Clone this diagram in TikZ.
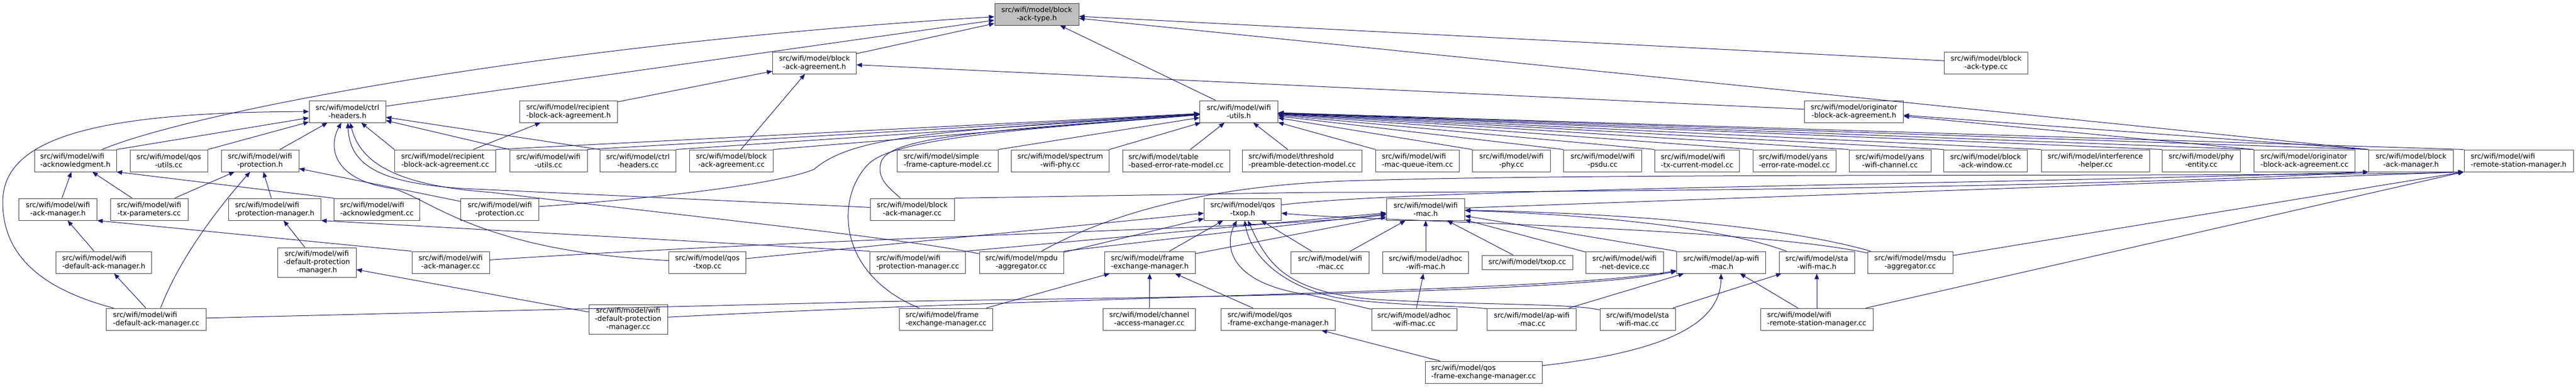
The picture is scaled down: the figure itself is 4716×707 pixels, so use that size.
\documentclass[tikz,border=0pt]{standalone}
\usepackage{fontspec}
\usetikzlibrary{arrows.meta}
\newfontfamily\nodefont{DejaVu Sans}
\definecolor{edgecol}{HTML}{191970}
\definecolor{boxcol}{HTML}{404040}
\definecolor{rootfill}{HTML}{BFBFBF}
\begin{document}
\begin{tikzpicture}[x=1pt,y=-1pt,
  box/.style={draw=boxcol, fill=white, line width=1pt, minimum height=40pt, inner xsep=0pt, inner ysep=0pt,
    font={\nodefont\fontsize{13}{15}\selectfont}, align=center},
  lbox/.style={box, align=left},
  dep/.style={draw=edgecol, line width=1pt, {Triangle[length=10pt,width=8pt]}-}]
\fill[white] (0,0) rectangle (4716,707);
\path[use as bounding box] (0,0) rectangle (4716,707);
% row 0
\node[box, minimum width=154pt, fill=rootfill] (r0) at (1898,26) {src/wifi/model/block\\-ack-type.h};
% row 1
\node[box, minimum width=153pt] (bah) at (1491,115) {src/wifi/model/block\\-ack-agreement.h};
\node[box, minimum width=153pt] (batcc) at (3636,115) {src/wifi/model/block\\-ack-type.cc};
% row 2
\node[box, minimum width=140pt] (ctrlh) at (636,204) {src/wifi/model/ctrl\\-headers.h};
\node[lbox, minimum width=179pt] (rbah) at (1041,204) {src/wifi/model/recipient\\-block-ack-agreement.h};
\node[box, minimum width=143pt] (wuh) at (2268,204) {src/wifi/model/wifi\\-utils.h};
\node[box, minimum width=181pt] (obah) at (3394,204) {src/wifi/model/originator\\-block-ack-agreement.h};
% row 3
\node[lbox, minimum width=150pt] (ackh) at (138,294) {src/wifi/model/wifi\\-acknowledgment.h};
\node[box, minimum width=142pt] (qucc) at (309,294) {src/wifi/model/qos\\-utils.cc};
\node[box, minimum width=142pt] (proth) at (476,294) {src/wifi/model/wifi\\-protection.h};
\node[lbox, minimum width=185pt] (rbacc) at (815,294) {src/wifi/model/recipient\\-block-ack-agreement.cc};
\node[box, minimum width=142pt] (wucc) at (1004,294) {src/wifi/model/wifi\\-utils.cc};
\node[box, minimum width=139pt] (ctrlcc) at (1168,294) {src/wifi/model/ctrl\\-headers.cc};
\node[box, minimum width=153pt] (bacc) at (1339,294) {src/wifi/model/block\\-ack-agreement.cc};
\node[lbox, minimum width=185pt] (sfcm) at (1735,294) {src/wifi/model/simple\\-frame-capture-model.cc};
\node[box, minimum width=179pt] (swp) at (1941,294) {src/wifi/model/spectrum\\-wifi-phy.cc};
\node[lbox, minimum width=196pt] (tber) at (2153,294) {src/wifi/model/table\\-based-error-rate-model.cc};
\node[lbox, minimum width=219pt] (tpd) at (2384,294) {src/wifi/model/threshold\\-preamble-detection-model.cc};
\node[lbox, minimum width=153pt] (mqi) at (2595,294) {src/wifi/model/wifi\\-mac-queue-item.cc};
\node[box, minimum width=143pt] (wphy) at (2767,294) {src/wifi/model/wifi\\-phy.cc};
\node[box, minimum width=143pt] (psdu) at (2934,294) {src/wifi/model/wifi\\-psdu.cc};
\node[lbox, minimum width=155pt] (txc) at (3107,294) {src/wifi/model/wifi\\-tx-current-model.cc};
\node[lbox, minimum width=152pt] (yer) at (3285,294) {src/wifi/model/yans\\-error-rate-model.cc};
\node[box, minimum width=150pt] (ywc) at (3460,294) {src/wifi/model/yans\\-wifi-channel.cc};
\node[box, minimum width=153pt] (baw) at (3635,294) {src/wifi/model/block\\-ack-window.cc};
\node[box, minimum width=198pt] (ih) at (3836,294) {src/wifi/model/interference\\-helper.cc};
\node[box, minimum width=143pt] (phye) at (4030,294) {src/wifi/model/phy\\-entity.cc};
\node[lbox, minimum width=185pt] (obacc) at (4219,294) {src/wifi/model/originator\\-block-ack-agreement.cc};
\node[box, minimum width=155pt] (bamh) at (4414,294) {src/wifi/model/block\\-ack-manager.h};
\node[lbox, minimum width=200pt] (wrsmh) at (4611,294) {src/wifi/model/wifi\\-remote-station-manager.h};
% row 4
\node[box, minimum width=143pt] (ackmh) at (106,383) {src/wifi/model/wifi\\-ack-manager.h};
\node[box, minimum width=142pt] (txpcc) at (273,383) {src/wifi/model/wifi\\-tx-parameters.cc};
\node[lbox, minimum width=169pt] (protmh) at (503,383) {src/wifi/model/wifi\\-protection-manager.h};
\node[lbox, minimum width=157pt] (ackcc) at (690,383) {src/wifi/model/wifi\\-acknowledgment.cc};
\node[box, minimum width=143pt] (protcc) at (915,383) {src/wifi/model/wifi\\-protection.cc};
\node[box, minimum width=154pt] (bamcc) at (1670,383) {src/wifi/model/block\\-ack-manager.cc};
\node[box, minimum width=141pt] (qtxh) at (2275,383) {src/wifi/model/qos\\-txop.h};
\node[box, minimum width=143pt] (wmach) at (2610,383) {src/wifi/model/wifi\\-mac.h};
% row 5
\node[lbox, minimum width=175pt] (dackmh) at (190,480) {src/wifi/model/wifi\\-default-ack-manager.h};
\node[box, minimum width=144pt, minimum height=54pt] (dprotmh) at (580,480) {src/wifi/model/wifi\\-default-protection\\-manager.h};
\node[box, minimum width=142pt] (ackmcc) at (825,480) {src/wifi/model/wifi\\-ack-manager.cc};
\node[box, minimum width=141pt] (qtxcc) at (1295,480) {src/wifi/model/qos\\-txop.cc};
\node[lbox, minimum width=175pt] (protmcc) at (1680,480) {src/wifi/model/wifi\\-protection-manager.cc};
\node[box, minimum width=154pt] (mpducc) at (1870,480) {src/wifi/model/mpdu\\-aggregator.cc};
\node[lbox, minimum width=166pt] (femh) at (2105,480) {src/wifi/model/frame\\-exchange-manager.h};
\node[box, minimum width=143pt] (wmaccc) at (2435,480) {src/wifi/model/wifi\\-mac.cc};
\node[box, minimum width=157pt] (adhh) at (2610,480) {src/wifi/model/adhoc\\-wifi-mac.h};
\node[box, minimum width=166pt, minimum height=26pt] (txopcc) at (2796,480) {src/wifi/model/txop.cc};
\node[box, minimum width=142pt] (wndcc) at (2974,480) {src/wifi/model/wifi\\-net-device.cc};
\node[box, minimum width=163pt] (aph) at (3151,480) {src/wifi/model/ap-wifi\\-mac.h};
\node[box, minimum width=138pt] (stah) at (3326,480) {src/wifi/model/sta\\-wifi-mac.h};
\node[box, minimum width=156pt] (msducc) at (3497,480) {src/wifi/model/msdu\\-aggregator.cc};
% row 6
\node[lbox, minimum width=183pt] (dackmcc) at (286,584) {src/wifi/model/wifi\\-default-ack-manager.cc};
\node[box, minimum width=144pt, minimum height=54pt] (dprotmcc) at (1150,584) {src/wifi/model/wifi\\-default-protection\\-manager.cc};
\node[lbox, minimum width=171pt] (femcc) at (1732,584) {src/wifi/model/frame\\-exchange-manager.cc};
\node[box, minimum width=169pt] (camcc) at (2104,584) {src/wifi/model/channel\\-access-manager.cc};
\node[lbox, minimum width=209pt] (qfemh) at (2340,584) {src/wifi/model/qos\\-frame-exchange-manager.h};
\node[box, minimum width=156pt] (adhcc) at (2589,584) {src/wifi/model/adhoc\\-wifi-mac.cc};
\node[box, minimum width=163pt] (apcc) at (2804,584) {src/wifi/model/ap-wifi\\-mac.cc};
\node[box, minimum width=138pt] (stacc) at (2998,584) {src/wifi/model/sta\\-wifi-mac.cc};
\node[lbox, minimum width=206pt] (wrsmcc) at (3326,584) {src/wifi/model/wifi\\-remote-station-manager.cc};
% row 7
\node[lbox, minimum width=214pt] (qfemcc) at (2716,681) {src/wifi/model/qos\\-frame-exchange-manager.cc};

% ---- edges: arrow at the included file ----
% root
\draw[dep] (r0) .. controls (1000,80) and (350,205) .. (ackh);
\draw[dep] (r0) -- (ctrlh);
\draw[dep] (r0) -- (bah);
\draw[dep] (r0) -- (wuh);
\draw[dep] (r0) -- (batcc);
\draw[dep] (r0) -- (bamh.north west);
% block-ack-agreement.h
\draw[dep] (bah) -- (rbah);
\draw[dep] (bah) -- (bacc);
\draw[dep] (bah) -- (obah);
% ctrl-headers.h
\draw[dep] (ctrlh) .. controls (150,205) and (5,260) .. (5,370) .. controls (5,470) and (80,530) .. (dackmcc);
\draw[dep] (ctrlh) -- (ackh.north east);
\draw[dep] (ctrlh) -- (qucc.north east);
\draw[dep] (ctrlh) -- (proth);
\draw[dep] (ctrlh) -- (rbacc.north west);
\draw[dep] (ctrlh) -- (wucc.north west);
\draw[dep] (ctrlh) -- (ctrlcc.north west);
\draw[dep] (ctrlh) .. controls (600,270) and (610,330) .. (720,345) .. controls (790,365) and (880,460) .. (qtxcc);
\draw[dep] (ctrlh) .. controls (640,300) and (690,335) .. (850,345) -- (bamcc);
\draw[dep] (ctrlh) .. controls (660,300) and (730,340) .. (900,352) .. controls (1250,395) and (1650,435) .. (mpducc);
% wifi-protection.h
\draw[dep] (proth) -- (txpcc);
\draw[dep] (proth) .. controls (400,380) and (330,470) .. (dackmcc);
\draw[dep] (proth) -- (protmh);
\draw[dep] (proth) -- (protcc);
% wifi-acknowledgment.h
\draw[dep] (ackh) -- (ackmh);
\draw[dep] (ackh) -- (txpcc);
\draw[dep] (ackh.south east) -- (ackcc.north west);
% managers
\draw[dep] (ackmh) -- (dackmh);
\draw[dep] (ackmh.south east) -- (ackmcc.north west);
\draw[dep] (dackmh) -- (dackmcc);
\draw[dep] (protmh) -- (dprotmh);
\draw[dep] (protmh.south east) -- (protmcc.north west);
\draw[dep] (dprotmh) -- (dprotmcc);
\draw[dep] (rbah) -- (rbacc);
% wifi-utils.h, left
\draw[dep] (wuh) -- (rbacc.north east);
\draw[dep] (wuh) -- (wucc.north east);
\draw[dep] (wuh) -- (ctrlcc.north east);
\draw[dep] (wuh) -- (bacc.north east);
\draw[dep] (wuh) -- (sfcm.north east);
\draw[dep] (wuh) -- (swp.north east);
\draw[dep] (wuh) -- (tber);
\draw[dep] (wuh) -- (tpd);
\draw[dep] (wuh) .. controls (1700,240) and (1560,250) .. (1490,310) .. controls (1400,345) and (1100,370) .. (protcc);
\draw[dep] (wuh) .. controls (1800,240) and (1620,250) .. (1612,300) .. controls (1606,330) and (1630,345) .. (bamcc);
\draw[dep] (wuh) .. controls (1900,235) and (1640,250) .. (1590,300) .. controls (1530,360) and (1530,500) .. (femcc);
% wifi-utils.h, right
\draw[dep] (wuh) -- (mqi.north west);
\draw[dep] (wuh) -- (wphy.north west);
\draw[dep] (wuh) -- (psdu.north west);
\draw[dep] (wuh) -- (txc.north west);
\draw[dep] (wuh) -- (yer.north west);
\draw[dep] (wuh) -- (ywc.north west);
\draw[dep] (wuh) -- (baw.north west);
\draw[dep] (wuh) -- (ih.north west);
\draw[dep] (wuh) -- (phye.north west);
\draw[dep] (wuh) -- (obacc.north west);
\draw[dep] (wuh) -- (bamh.north west);
\draw[dep] (wuh) -- (wrsmh.north west);
% originator-block-ack-agreement.h
\draw[dep] (obah) -- (obacc.north west);
\draw[dep] (obah) -- (bamh.north west);
% block-ack-manager.h, wifi-remote-station-manager.h
\draw[dep] (bamh.south west) .. controls (3800,345) and (2800,352) .. (2400,352) -- (bamcc.north east);
\draw[dep] (bamh.south west) .. controls (3500,340) and (2600,345) .. (qtxh);
\draw[dep] (wrsmh.south west) -- (wmach);
\draw[dep] (wrsmh.south west) -- (msducc);
\draw[dep] (wrsmh.south west) -- (wrsmcc);
\draw[dep] (wrsmh.south west) .. controls (4200,325) and (3000,315) .. (2500,330) .. controls (2250,335) and (2050,380) .. (mpducc);
% qos-txop.h
\draw[dep] (qtxh) -- (qtxcc);
\draw[dep] (qtxh) -- (mpducc);
\draw[dep] (qtxh) -- (femh);
\draw[dep] (qtxh) -- (wmaccc);
\draw[dep] (qtxh) .. controls (2500,405) and (3200,415) .. (msducc);
\draw[dep] (qtxh) .. controls (2240,450) and (2250,520) .. (2400,540) -- (adhcc);
\draw[dep] (qtxh) .. controls (2290,470) and (2350,525) .. (2450,545) .. controls (2550,560) and (2700,560) .. (apcc);
\draw[dep] (qtxh) .. controls (2320,480) and (2350,535) .. (2520,548) .. controls (2700,558) and (2880,555) .. (stacc);
% wifi-mac.h
\draw[dep] (wmach) -- (wmaccc);
\draw[dep] (wmach) -- (adhh);
\draw[dep] (wmach) -- (txopcc);
\draw[dep] (wmach) -- (wndcc);
\draw[dep] (wmach) -- (aph.north west);
\draw[dep] (wmach) .. controls (2900,392) and (3150,415) .. (stah);
\draw[dep] (wmach) .. controls (2950,390) and (3250,410) .. (msducc);
\draw[dep] (wmach) -- (femh);
\draw[dep] (wmach) -- (mpducc.north east);
\draw[dep] (wmach) .. controls (2350,418) and (1600,430) .. (ackmcc);
\draw[dep] (wmach) -- (protmcc.north east);
% lower part
\draw[dep] (femh) -- (femcc);
\draw[dep] (femh) -- (camcc);
\draw[dep] (femh) -- (qfemh);
\draw[dep] (qfemh) -- (qfemcc);
\draw[dep] (adhh) -- (adhcc);
\draw[dep] (aph) -- (apcc);
\draw[dep] (aph) .. controls (3150,580) and (3080,640) .. (qfemcc);
\draw[dep] (aph) -- (wrsmcc);
\draw[dep] (stah) -- (stacc);
\draw[dep] (stah) -- (wrsmcc);
\draw[dep] (aph) .. controls (2850,540) and (2000,545) .. (1600,552) -- (dackmcc);
\draw[dep] (aph) .. controls (2850,535) and (2000,540) .. (dprotmcc);
\end{tikzpicture}
\end{document}
